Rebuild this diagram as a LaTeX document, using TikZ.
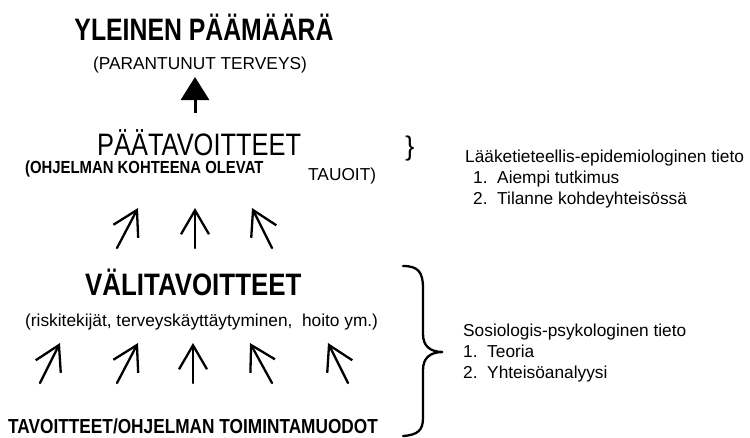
\documentclass[tikz,border=0pt]{standalone}
\usepackage{fontspec}
\setmainfont{Liberation Sans}
\newfontfamily\titlefont[FakeStretch=0.80]{Liberation Sans}
\newfontfamily\headfont[FakeStretch=0.82]{Liberation Sans}
\newfontfamily\midfont[FakeStretch=0.835]{Liberation Sans}
\newfontfamily\semifont[FakeStretch=0.85]{Liberation Sans}
\usetikzlibrary{arrows.meta}
\begin{document}
\begin{tikzpicture}[x=1pt,y=-1pt,
  bigtitle/.style={inner sep=0pt,font=\titlefont\bfseries\fontsize{31}{34}\selectfont},
  bighead/.style={inner sep=0pt,font=\headfont\fontsize{31}{34}\selectfont},
  boldhead/.style={inner sep=0pt,font=\midfont\bfseries\fontsize{31}{34}\selectfont},
  boldsmall/.style={inner sep=0pt,font=\semifont\bfseries\fontsize{17.5}{20}\selectfont},
  boldbottom/.style={inner sep=0pt,font=\semifont\bfseries\fontsize{20.3}{23}\selectfont},
  plain/.style={inner sep=0pt,font=\fontsize{17.3}{20}\selectfont},
  handarrow/.style={line width=2.3pt,line cap=round,-{Straight Barb[length=24pt,width=28pt]}},
  fatarrow/.style={line width=3pt,-{Triangle[length=23pt,width=28pt]}},
  bracepath/.style={line width=2.3pt,line cap=round}]
\fill[white] (0,0) rectangle (750,437);
\useasboundingbox (0,0) rectangle (750,437);

% top
\node[bigtitle,anchor=base] (goal) at (204,40) {YLEINEN PÄÄMÄÄRÄ};
\node[plain,anchor=base] (goalsub) at (200,69) {(PARANTUNUT TERVEYS)};
\coordinate (fatTail) at (195,113);
\coordinate (fatTip) at (195,77);
\draw[fatarrow] (fatTail) -- (fatTip);

% main aims
\node[bighead,anchor=base west] (main) at (97,155) {PÄÄTAVOITTEET};
\node[boldsmall,anchor=base west] (mainsub) at (25,173) {(OHJELMAN KOHTEENA OLEVAT};
\node[plain,anchor=base west] (mainsub2) at (308,180) {TAUOIT)};
\node[inner sep=0pt,font=\fontsize{27}{29}\selectfont] (smallbrace) at (410,149) {\}};

\node[plain,anchor=base west] (med) at (465,162) {Lääketieteellis-epidemiologinen tieto};
\node[plain,anchor=base west] (med1) at (473,183) {1.\ \ Aiempi tutkimus};
\node[plain,anchor=base west] (med2) at (473,204) {2.\ \ Tilanne kohdeyhteisössä};

% upper arrows
\coordinate (uA0) at (117,248); \coordinate (uA1) at (138,208);
\coordinate (uB0) at (195,248); \coordinate (uB1) at (195,208);
\coordinate (uC0) at (272,248); \coordinate (uC1) at (252,208);
\draw[handarrow] (uA0) -- (uA1);
\draw[handarrow] (uB0) -- (uB1);
\draw[handarrow] (uC0) -- (uC1);

% intermediate aims
\node[boldhead,anchor=base west] (mid) at (85,295) {VÄLITAVOITTEET};
\node[plain,anchor=base west] (midsub) at (25,326) {(riskitekijät, terveyskäyttäytyminen,\ \ hoito ym.)};

% lower arrows
\coordinate (lA0) at (40,383);  \coordinate (lA1) at (60,343);
\coordinate (lB0) at (117,383); \coordinate (lB1) at (138,343);
\coordinate (lC0) at (193,383); \coordinate (lC1) at (193,343);
\coordinate (lD0) at (272,383); \coordinate (lD1) at (250,343);
\coordinate (lE0) at (348,383); \coordinate (lE1) at (328,343);
\draw[handarrow] (lA0) -- (lA1);
\draw[handarrow] (lB0) -- (lB1);
\draw[handarrow] (lC0) -- (lC1);
\draw[handarrow] (lD0) -- (lD1);
\draw[handarrow] (lE0) -- (lE1);

\node[boldbottom,anchor=base west] (acts) at (8,433) {TAVOITTEET/OHJELMAN TOIMINTAMUODOT};

% big brace
\draw[bracepath] (403,266) .. controls (418,266) and (423,272) .. (423,288) -- (423,334)
  .. controls (423,346) and (430,352) .. (443,352)
  .. controls (430,352) and (423,358) .. (423,370) -- (423,418)
  .. controls (423,430) and (418,435) .. (403,436);

\node[plain,anchor=base west] (soc) at (463,336) {Sosiologis-psykologinen tieto};
\node[plain,anchor=base west] (soc1) at (463,357) {1.\ \ Teoria};
\node[plain,anchor=base west] (soc2) at (463,378) {2.\ \ Yhteisöanalyysi};
\end{tikzpicture}
\end{document}
